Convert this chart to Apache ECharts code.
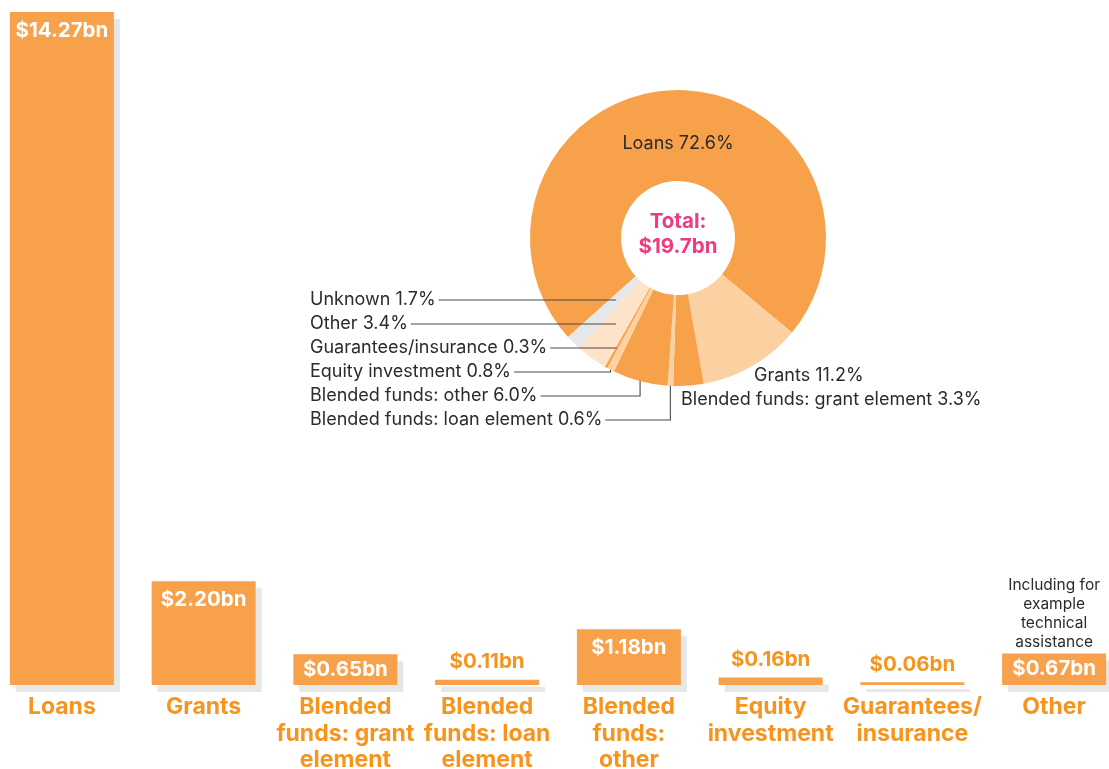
<!DOCTYPE html>
<html><head><meta charset="utf-8">
<script src="https://cdn.jsdelivr.net/npm/echarts@6/dist/echarts.min.js"></script>
<style>html,body{margin:0;padding:0;background:#fff}#c{width:1109px;height:769px}</style>
</head><body><div id="c"></div>
<script>
// ---- data ----
const categories = ['Loans', 'Grants', 'Blended funds: grant element', 'Blended funds: loan element',
  'Blended funds: other', 'Equity investment', 'Guarantees/insurance', 'Other'];
const tickLabels = ['Loans', 'Grants', 'Blended\nfunds: grant\nelement', 'Blended\nfunds: loan\nelement',
  'Blended\nfunds:\nother', 'Equity\ninvestment', 'Guarantees/\ninsurance', 'Other'];
const barValues = [14.27, 2.20, 0.65, 0.11, 1.18, 0.16, 0.06, 0.67];
const pieNames = ['Loans', 'Grants', 'Blended funds: grant element', 'Blended funds: loan element',
  'Blended funds: other', 'Equity investment', 'Guarantees/insurance', 'Other', 'Unknown'];
const pieShares = [72.6, 11.2, 3.3, 0.6, 6.0, 0.8, 0.3, 3.4, 1.7];
const totalLabel = 'Total:\n$19.7bn';
const otherNote = 'Including for\nexample\ntechnical\nassistance';

// ---- styles / layout ----
const ORANGE = '#f7a14b', LIGHT = '#fcd1a1', PALE = '#fde3c7', GREY = '#e6e7e8';
const LABEL_ORANGE = '#f7941e', PINK = '#ee3a80', TEXT = '#2b2b2b';
const FONT = 'Inter, "Noto Sans", sans-serif';
const pieColors = [ORANGE, LIGHT, ORANGE, LIGHT, ORANGE, LIGHT, ORANGE, PALE, GREY];
const PIE_C = [678, 238];
// label spots relative to pie centre: [dx, dy, align, hasLine]
const pieLabelSpots = [
  [0, -94.5, 'center', false],
  [76, 138, 'left', false],
  [3, 161.5, 'left', false],
  [-368, 182, 'left', true],
  [-368, 158, 'left', true],
  [-368, 134, 'left', true],
  [-368, 110, 'left', true],
  [-368, 86, 'left', true],
  [-368, 62, 'left', true]
];
const leaderPoints = [];

const chart = echarts.init(document.getElementById('c'), null, {renderer: 'canvas'});

const barData = barValues.map(function (v) {
  const small = v < 0.3;
  return {
    value: v,
    label: small
      ? {position: 'top', distance: 7, color: LABEL_ORANGE}
      : {position: 'insideTop', distance: v < 1 ? 5 : 8, color: '#ffffff'}
  };
});

const pieData = pieShares.map(function (v, i) {
  return {name: pieNames[i], value: v, itemStyle: {color: pieColors[i]}};
});

// slice geometry as laid out by the library's pie layout
function sliceLayout(idx) {
  try {
    return chart.getModel().getSeriesByIndex(1).getData().getItemLayout(idx);
  } catch (e) { return null; }
}

chart.setOption({
  animation: false,
  grid: {left: -9, right: -16, top: 12, bottom: 84, containLabel: false, outerBoundsMode: 'none'},
  xAxis: {
    type: 'category',
    data: categories,
    axisLine: {show: false},
    axisTick: {show: false},
    axisLabel: {
      interval: 0,
      margin: 9,
      formatter: function (v, i) { return tickLabels[i]; },
      color: LABEL_ORANGE,
      fontFamily: FONT,
      fontWeight: 'bold',
      fontSize: 23,
      lineHeight: 26.5,
      align: 'center',
      verticalAlign: 'top'
    }
  },
  yAxis: {type: 'value', min: 0, max: 14.27, show: false, splitLine: {show: false}},
  series: [
    {
      type: 'bar',
      data: barData,
      barWidth: 104,
      itemStyle: {
        color: ORANGE,
        shadowColor: GREY,
        shadowBlur: 0,
        shadowOffsetX: 6,
        shadowOffsetY: 7
      },
      label: {
        show: true,
        formatter: function (p) { return '$' + p.value.toFixed(2) + 'bn'; },
        fontFamily: FONT,
        fontWeight: 'bold',
        fontSize: 20.5
      }
    },
    {
      type: 'pie',
      center: PIE_C,
      radius: [57, 148],
      startAngle: 222,
      clockwise: true,
      avoidLabelOverlap: false,
      data: pieData,
      itemStyle: {borderWidth: 0},
      emphasis: {disabled: true},
      label: {
        show: true,
        position: 'outside',
        overflow: 'none',
        formatter: function (p) { return p.name + ' ' + p.value.toFixed(1) + '%'; },
        color: TEXT,
        fontFamily: FONT,
        fontSize: 18
      },
      labelLine: {show: false},
      labelLayout: function (p) {
        const o = pieLabelSpots[p.dataIndex];
        const x = PIE_C[0] + o[0];
        const y = PIE_C[1] + o[1];
        const L = sliceLayout(p.dataIndex);
        if (o[3] && L) {
          const mid = (L.startAngle + L.endAngle) / 2;
          const dx = Math.cos(mid), dy = Math.sin(mid);
          const P0 = [L.cx + L.r * dx, L.cy + L.r * dy];
          const endX = x + p.labelRect.width + 3;
          const t = (y - L.cy) / (P0[1] - L.cy);
          if (t <= 1) {
            const px = L.cx + t * (P0[0] - L.cx);
            leaderPoints[p.dataIndex] = [[px, y], [endX, y]];
          } else {
            leaderPoints[p.dataIndex] = [[P0[0], P0[1]], [P0[0], y], [endX, y]];
          }
        }
        return {x: x, y: y, align: o[2], verticalAlign: 'middle'};
      }
    }
  ],
  graphic: [{
    type: 'text',
    x: PIE_C[0],
    y: PIE_C[1] - 3.5,
    style: {
      text: totalLabel,
      align: 'center', verticalAlign: 'middle',
      textAlign: 'center', textVerticalAlign: 'middle',
      fill: PINK,
      fontFamily: FONT,
      fontWeight: 'bold',
      fontSize: 20.5,
      lineHeight: 25
    }
  }]
});

// annotation above the "Other" bar, anchored to the bar's top via the axes
const otherIdx = categories.indexOf('Other');
const otherTop = chart.convertToPixel({gridIndex: 0}, [otherIdx, barValues[otherIdx]]);
const extraGraphics = [{}, {
  type: 'text',
  x: otherTop[0],
  y: otherTop[1] - 2,
  style: {
    text: otherNote,
    align: 'center', verticalAlign: 'bottom',
    textAlign: 'center', textVerticalAlign: 'bottom',
    fill: TEXT,
    fontFamily: FONT,
    fontSize: 15.5,
    lineHeight: 19
  }
}];
// leader lines drawn above the slices
leaderPoints.forEach(function (pts) {
  if (!pts) return;
  extraGraphics.push({
    type: 'polyline',
    silent: true,
    z: 100,
    shape: {points: pts},
    style: {stroke: '#4a4a4a', lineWidth: 1.1, fill: null}
  });
});
chart.setOption({graphic: extraGraphics});
</script>
</body></html>
